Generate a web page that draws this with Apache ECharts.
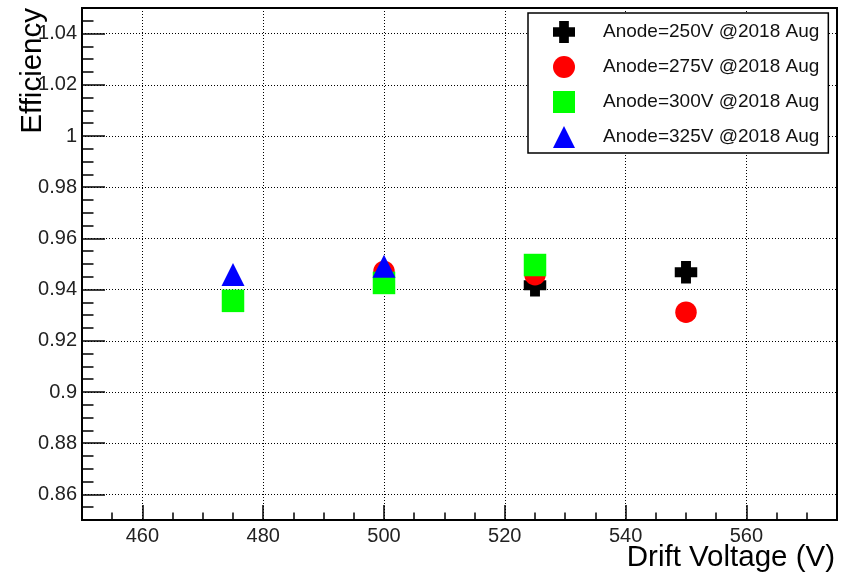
<!DOCTYPE html>
<html>
<head>
<meta charset="utf-8">
<script src="https://cdn.jsdelivr.net/npm/echarts@6/dist/echarts.min.js"></script>
<style>
  html, body { margin: 0; padding: 0; background: #fff; }
  #chart { width: 849px; height: 574px; }
</style>
</head>
<body>
<div id="chart"></div>
<script>
// --- data ---
const seriesNames = ['Anode=250V @2018 Aug', 'Anode=275V @2018 Aug', 'Anode=300V @2018 Aug', 'Anode=325V @2018 Aug'];
const drift250 = [525, 550];
const eff250 = [0.9417, 0.9468];
const drift275 = [500, 525, 550];
const eff275 = [0.9471, 0.9458, 0.9312];
const drift300 = [475, 500, 525];
const eff300 = [0.9356, 0.9426, 0.9496];
const drift325 = [475, 500];
const eff325 = [0.9459, 0.9491];

const FONT = 'Liberation Sans, Arial, sans-serif';
const crossPath = 'path://M28,0H72V28H100V72H72V100H28V72H0V28H28Z';

const pairs = (xs, ys) => xs.map((x, i) => [x, ys[i]]);

const chart = echarts.init(document.getElementById('chart'));

const majorX = {
    type: 'value', min: 450, max: 575, splitNumber: 6, minInterval: 20, maxInterval: 20,
    position: 'bottom',
    axisLine: { show: true, lineStyle: { color: '#000', width: 2 } },
    axisTick: { show: true, inside: true, length: 15, lineStyle: { color: '#000', width: 1.5 } },
    axisLabel: { showMinLabel: false, showMaxLabel: false, fontSize: 20, color: '#222', fontFamily: FONT, margin: 6 },
    splitLine: { show: true, lineStyle: { type: [1, 2], color: '#000', width: 1 } }
};
const minorX = {
    type: 'value', min: 450, max: 575, interval: 5, position: 'bottom',
    axisLine: { show: false },
    axisTick: { show: true, inside: true, length: 7.5, lineStyle: { color: '#000', width: 1.5 } },
    axisLabel: { show: false },
    splitLine: { show: false }
};
const majorY = {
    type: 'value', min: 0.85, max: 1.05, splitNumber: 10, minInterval: 0.02, maxInterval: 0.02,
    position: 'left',
    axisLine: { show: true, lineStyle: { color: '#000', width: 2 } },
    axisTick: { show: true, inside: true, length: 23, lineStyle: { color: '#000', width: 1.5 } },
    axisLabel: { showMinLabel: false, showMaxLabel: false, fontSize: 20, color: '#222', fontFamily: FONT, margin: 5 },
    splitLine: { show: true, lineStyle: { type: [1, 2], color: '#000', width: 1 } }
};
const minorY = {
    type: 'value', min: 0.85, max: 1.05, interval: 0.005, position: 'left',
    axisLine: { show: false },
    axisTick: { show: true, inside: true, length: 11.5, lineStyle: { color: '#000', width: 1.5 } },
    axisLabel: { show: false },
    splitLine: { show: false }
};

const option = {
    animation: false,
    backgroundColor: '#fff',
    grid: { left: 82, right: 12, top: 8, bottom: 54, show: true, borderColor: '#000', borderWidth: 2, backgroundColor: 'transparent' },
    xAxis: [majorX, minorX],
    yAxis: [majorY, minorY],
    legend: {
        orient: 'vertical', left: 528, top: 13,
        padding: [8, 9, 5, 25],
        itemWidth: 22, itemHeight: 22, itemGap: 13,
        borderColor: '#000', borderWidth: 1.5, borderRadius: 0, backgroundColor: '#fff',
        textStyle: { fontSize: 19, color: '#111', fontFamily: FONT, padding: [0, 0, 0, 23] },
        data: seriesNames
    },
    graphic: [
        { type: 'text', x: 33, y: 8, rotation: Math.PI / 2,
          style: { text: 'Efficiency', font: '29.5px ' + FONT, fill: '#000', textAlign: 'right', textVerticalAlign: 'middle' } },
        { type: 'text', x: 835, y: 558,
          style: { text: 'Drift Voltage (V)', font: '29.5px ' + FONT, fill: '#000', textAlign: 'right', textVerticalAlign: 'middle' } }
    ],
    series: [
        { name: seriesNames[0], type: 'scatter', symbol: crossPath, symbolSize: 22.5, itemStyle: { color: '#000', opacity: 1 }, data: pairs(drift250, eff250) },
        { name: seriesNames[1], type: 'scatter', symbol: 'circle', symbolSize: 21.5, itemStyle: { color: '#ff0000', opacity: 1 }, data: pairs(drift275, eff275) },
        { name: seriesNames[2], type: 'scatter', symbol: 'rect', symbolSize: 22.5, itemStyle: { color: '#00ff00', opacity: 1 }, data: pairs(drift300, eff300) },
        { name: seriesNames[3], type: 'scatter', symbol: 'triangle', symbolSize: 23, itemStyle: { color: '#0000ff', opacity: 1 }, data: pairs(drift325, eff325) }
    ]
};
chart.setOption(option);
window.addEventListener('resize', () => chart.resize());
</script>
</body>
</html>
